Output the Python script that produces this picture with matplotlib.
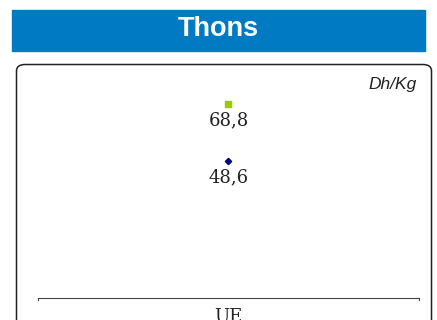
import matplotlib.pyplot as plt
from matplotlib.patches import FancyBboxPatch, Rectangle

title = "Thons"
unit = "Dh/Kg"
category = ["UE"]
series_names = ["prix_max", "prix_min"]
values = [68.8, 48.6]
colors = ["#99cc00", "#000080"]
markers = ["s", "D"]

fig = plt.figure(figsize=(4.37, 3.2), dpi=100)
W, H = 437, 320

# bandeau titre
fig.patches.append(Rectangle((12 / W, 1 - 50.5 / H), 413 / W, 40.5 / H,
                             transform=fig.transFigure, color="#007bc3", zorder=0))
fig.text(218.5 / W, 1 - 29.5 / H, title, color="white", fontsize=19.5, fontweight="bold",
         family="Liberation Sans", ha="center", va="center")

# cadre arrondi
fig.patches.append(FancyBboxPatch((16.5 / W, -0.1), 415 / W, (320 - 64.5) / H + 0.1,
                                  boxstyle="round,pad=0,rounding_size=0.02",
                                  transform=fig.transFigure, fill=False,
                                  edgecolor="#222222", linewidth=1.1, zorder=0))

ax = fig.add_axes([38 / W, 22 / H, 381 / W, 225.5 / H])
ax.set_xlim(-0.5, 0.5)
ax.set_ylim(0, 80)
for v, c, m in zip(values, colors, markers):
    ax.plot([0], [v], marker=m, color=c, markersize=4.5 if m == "s" else 3.2, linestyle="none")
    ax.annotate(str(v).replace(".", ","), (0, v), xytext=(0, -12), textcoords="offset points",
                ha="center", va="center", family="DejaVu Serif", fontsize=13, color="#222222")

for s in ["top", "right", "left"]:
    ax.spines[s].set_visible(False)
ax.spines["bottom"].set_color("#444444")
ax.set_yticks([])
ax.set_xticks([0])
ax.set_xticklabels(category, family="DejaVu Serif", fontsize=13, color="#222222")
ax.tick_params(axis="x", length=0, pad=7)
ax.plot([-0.5, -0.5], [0, -0.8], color="#444444", lw=0.8, clip_on=False)
ax.plot([0.5, 0.5], [0, -0.8], color="#444444", lw=0.8, clip_on=False)

fig.text(417 / W, 1 - 84 / H, unit, family="Liberation Sans", style="italic",
         fontsize=12.5, ha="right", va="center", color="#222222")

fig.savefig("out.png", dpi=100)
